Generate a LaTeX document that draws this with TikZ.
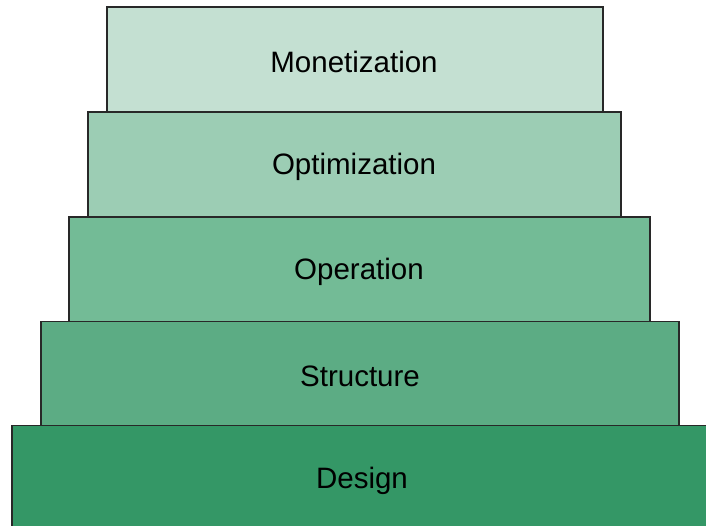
\documentclass[tikz,border=0pt]{standalone}
\usepackage{fontspec}
\setmainfont{Liberation Sans}
\definecolor{tierA}{RGB}{196,224,210}
\definecolor{tierB}{RGB}{156,205,180}
\definecolor{tierC}{RGB}{115,187,150}
\definecolor{tierD}{RGB}{92,172,132}
\definecolor{tierE}{RGB}{52,151,102}
\definecolor{edge}{RGB}{40,40,40}
\begin{document}
\begin{tikzpicture}[x=1pt,y=-1pt,
  tier/.style={draw=edge,line width=1.8pt},
  tierlabel/.style={font=\fontsize{29.5}{32}\selectfont,text=black}]
\useasboundingbox (0,0) rectangle (706,526);
\begin{scope}
\clip (0,0) rectangle (706,526);
% pyramid tiers, bottom tier first so upper tiers overlap the edges
\draw[tier,fill=tierE] (12.3,425.5) rectangle (720,540);
\draw[tier,fill=tierD] (40.7,321.5) rectangle (678.7,425.5);
\draw[tier,fill=tierC] (68.7,216.7) rectangle (650,321.5);
\draw[tier,fill=tierB] (88.3,111.7) rectangle (621.3,216.7);
\draw[tier,fill=tierA] (107.3,6.7) rectangle (602.7,111.7);
\end{scope}
\node[tierlabel] (monetization) at (354,61.5) {Monetization};
\node[tierlabel] (optimization) at (354,166.5) {Optimization};
\node[tierlabel] (operation) at (359,271.5) {Operation};
\node[tierlabel] (structure) at (360,376.5) {Structure};
\node[tierlabel] (design) at (362,480.5) {Design};
\end{tikzpicture}
\end{document}
